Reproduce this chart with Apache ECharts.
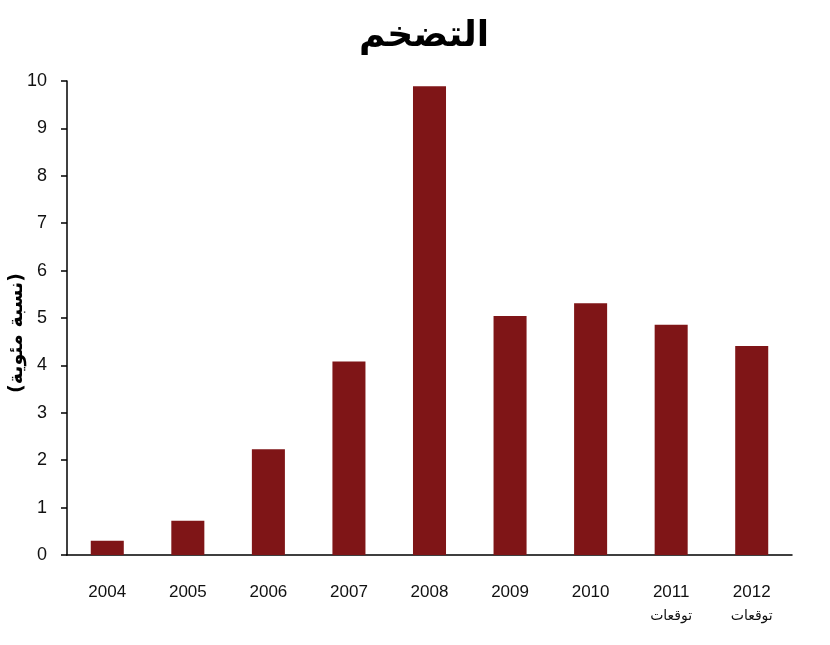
<!DOCTYPE html>
<html>
<head>
<meta charset="utf-8">
<script src="https://cdn.jsdelivr.net/npm/echarts@6/dist/echarts.min.js"></script>
<style>
html, body { margin: 0; padding: 0; background: #fff; }
#main { width: 830px; height: 645px; }
</style>
</head>
<body>
<div id="main"></div>
<script>
var years = ['2004', '2005', '2006', '2007', '2008', '2009', '2010', '2011', '2012'];
var notes = ['', '', '', '', '', '', '', 'توقعات', 'توقعات'];
var inflation = [0.3, 0.72, 2.23, 4.08, 9.89, 5.04, 5.31, 4.86, 4.41];
var yTicks = [0, 10, 1];

var chart = echarts.init(document.getElementById('main'));

var option = {
	backgroundColor : '#fff',
	animation : false,
	title : {
		text : 'التضخم',
		left : 354,
		top : 14,
		textStyle : {
			fontFamily : 'DejaVu Sans',
			fontSize : 36,
			fontWeight : 'bold',
			color : '#000'
		}
	},
	grid : {
		left : 67,
		right : 38,
		top : 81,
		bottom : 90,
		containLabel : false,
		outerBoundsMode : 'none'
	},
	xAxis : {
		type : 'category',
		data : years,
		axisLine : {
			lineStyle : { color : '#000', width : 1.5 }
		},
		axisTick : {
			length : 6,
			lineStyle : { color : '#000', width : 1.5 }
		},
		axisLabel : {
			margin : 24,
			interval : 0,
			formatter : function(value, idx) {
				if (notes[idx]) {
					return '{y|' + value + '}\n{n|' + notes[idx] + '}';
				}
				return '{y|' + value + '}';
			},
			rich : {
				y : {
					fontFamily : 'Liberation Sans',
					fontSize : 17,
					color : '#111',
					lineHeight : 26
				},
				n : {
					fontFamily : 'DejaVu Sans',
					fontSize : 14,
					color : '#111',
					lineHeight : 22
				}
			},
			verticalAlign : 'top'
		}
	},
	yAxis : {
		type : 'value',
		min : yTicks[0],
		max : yTicks[1],
		interval : yTicks[2],
		name : '(نسبة مئوية)',
		nameLocation : 'middle',
		nameRotate : 90,
		nameGap : 40,
		nameMoveOverlap : false,
		nameTextStyle : {
			fontFamily : 'DejaVu Sans',
			fontSize : 19,
			fontWeight : 'bold',
			color : '#000',
			padding : [0, 30, 0, 0]
		},
		axisLine : {
			show : true,
			lineStyle : { color : '#000', width : 1.5 }
		},
		axisTick : {
			show : true,
			length : 6,
			lineStyle : { color : '#000', width : 1.5 }
		},
		axisLabel : {
			margin : 20,
			fontFamily : 'Liberation Sans',
			fontSize : 18,
			color : '#111'
		},
		splitLine : { show : false }
	},
	series : [ {
		type : 'bar',
		data : inflation,
		barWidth : '41%',
		itemStyle : { color : '#7f1517' }
	} ]
};
chart.setOption(option);
</script>
</body>
</html>
